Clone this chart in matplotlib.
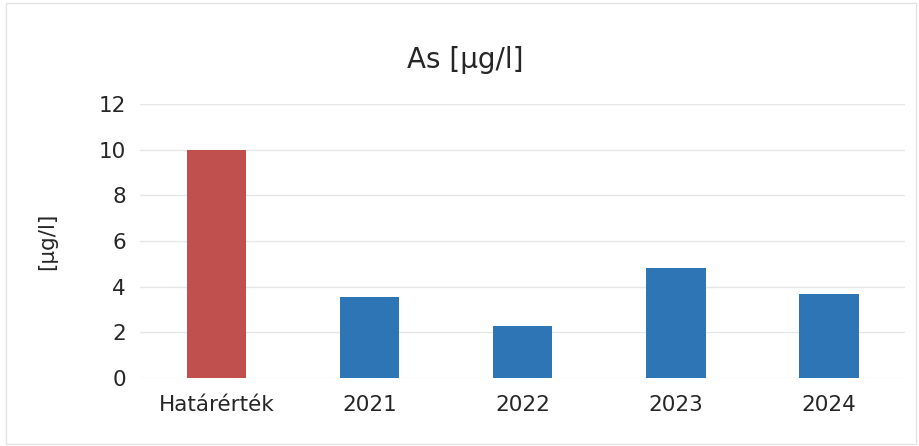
import matplotlib
matplotlib.use("Agg")
import matplotlib.pyplot as plt
from matplotlib.patches import Rectangle

plt.rcParams["font.family"] = ["DejaVu Sans"]

CATS = ["Határérték", "2021", "2022", "2023", "2024"]
VALUES = [10.0, 3.55, 2.28, 4.83, 3.68]
COLORS = ["#C0504D", "#2E75B6", "#2E75B6", "#2E75B6", "#2E75B6"]
YTICKS = [0, 2, 4, 6, 8, 10, 12]


def main():
    fig = plt.figure(figsize=(9.2, 4.46), dpi=100)
    ax = fig.add_axes([0.152, 0.152, 0.832, 0.615])
    x = range(len(CATS))
    ax.bar(x, VALUES, width=0.39, color=COLORS, zorder=3)
    ax.set_xlim(-0.5, len(CATS) - 0.5)
    ax.set_ylim(0, 12)
    ax.set_yticks(YTICKS)
    ax.set_xticks(list(x))
    ax.set_xticklabels(CATS)
    ax.tick_params(axis="both", length=0, labelsize=15.5, colors="#262626")
    ax.tick_params(axis="x", pad=12)
    ax.tick_params(axis="y", pad=10)
    ax.grid(axis="y", color="#E6E6E6", linewidth=1, zorder=0)
    for s in ax.spines.values():
        s.set_visible(False)
    ax.set_ylabel("[µg/l]", fontsize=15.5, color="#262626", labelpad=30)
    fig.text(0.506, 0.866, "As [µg/l]", ha="center", va="center", fontsize=20, color="#262626")
    fig.patches.append(Rectangle((0.006, 0.004), 0.99, 0.99, transform=fig.transFigure,
                                 fill=False, edgecolor="#E3E3E3", linewidth=1))
    fig.savefig("out.png", dpi=100)
    plt.close(fig)


if __name__ == "__main__":
    main()
